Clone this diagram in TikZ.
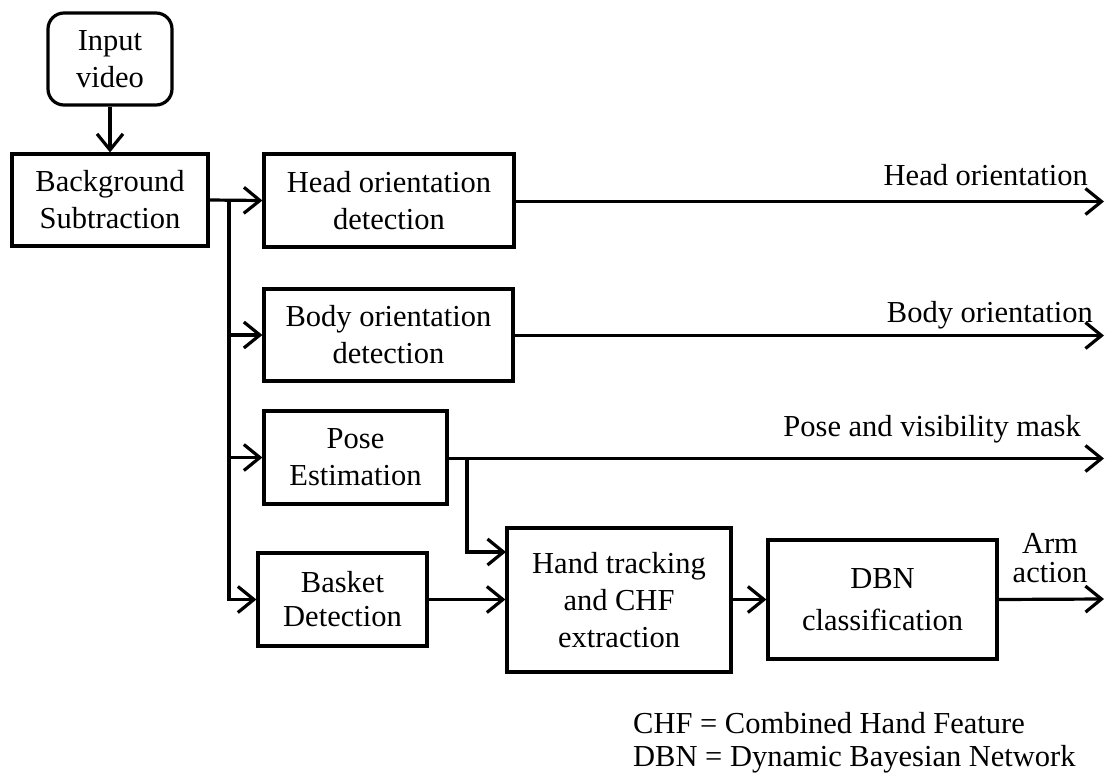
\documentclass[tikz,border=0pt]{standalone}
\usepackage{fontspec}
\setmainfont{Liberation Serif}
\usetikzlibrary{arrows.meta}
\begin{document}
\begin{tikzpicture}[x=1pt,y=-1pt,
  txt/.style={font=\fontsize{30.5}{37}\selectfont},
  box/.style={txt,draw,line width=3.2pt,align=center,inner sep=0pt},
  link/.style={line width=3.2pt},
  arr/.style={link,-{Straight Barb[length=16pt,width=26pt,line width=3.2pt]}},
  lbl/.style={txt,inner sep=0pt}]
\useasboundingbox (0,0) rectangle (1106,774);

% processing blocks
\node[box,rounded corners=16pt,minimum width=124pt,minimum height=92pt] (input) at (110,59) {Input\\video};
\node[box,minimum width=196pt,minimum height=92pt] (bgs) at (110,200) {Background\\Subtraction};
\node[box,minimum width=250pt,minimum height=93pt] (head) at (389,200.5) {Head orientation\\detection};
\node[box,minimum width=249pt,minimum height=92pt] (body) at (388.5,335) {Body orientation\\detection};
\node[box,minimum width=183pt,minimum height=93pt] (pose) at (355.5,457.5) {Pose\\Estimation};
\node[box,minimum width=169pt,minimum height=93pt,font=\fontsize{30.5}{34}\selectfont] (basket) at (342.5,599.5) {Basket\\Detection};
\node[box,minimum width=224pt,minimum height=144pt] (hand) at (619,600) {Hand tracking\\and CHF\\extraction};
\node[box,minimum width=229pt,minimum height=119pt,font=\fontsize{30.5}{42}\selectfont] (dbn) at (882.5,599.5) {DBN\\classification};

% branch points and free ends
\coordinate (br) at (229,200);
\coordinate (pbr) at (467,458.5);
\coordinate (headout) at (1104,201.5);
\coordinate (bodyout) at (1104,335.5);
\coordinate (poseout) at (1104,458.5);
\coordinate (armout) at (1104,599);
\coordinate (handin) at (506,552);

% connectors
\draw[arr] (input) -- (bgs);
\draw[arr] (bgs.east) -- (head.west);
\draw[link] (br) -- (229,600);
\draw[arr] (br) |- (body.west);
\draw[arr] (br) |- (pose.west);
\draw[arr] (br) |- (basket.west);
\draw[arr] (head.east |- headout) -- (headout);
\draw[arr] (body.east |- bodyout) -- (bodyout);
\draw[arr] (pose.east |- poseout) -- (poseout);
\draw[arr] (pbr) |- (handin);
\draw[arr] (basket.east) -- (hand.west |- basket.east);
\draw[arr] (hand.east |- dbn.west) -- (dbn.west);
\draw[arr] (dbn.east) -- (armout);

% output labels
\node[lbl,anchor=base east] (lhead) at (1088,185) {Head orientation};
\node[lbl,anchor=base east] (lbody) at (1093,322) {Body orientation};
\node[lbl,anchor=base east] (lpose) at (1081,436) {Pose and visibility mask};
\node[lbl,align=center,anchor=base,font=\fontsize{30.5}{29}\selectfont] (larm) at (1050,582) {Arm\\action};

% legend
\node[lbl,anchor=base west] (leg1) at (633,733) {CHF = Combined Hand Feature};
\node[lbl,anchor=base west] (leg2) at (633,766) {DBN = Dynamic Bayesian Network};
\end{tikzpicture}
\end{document}
